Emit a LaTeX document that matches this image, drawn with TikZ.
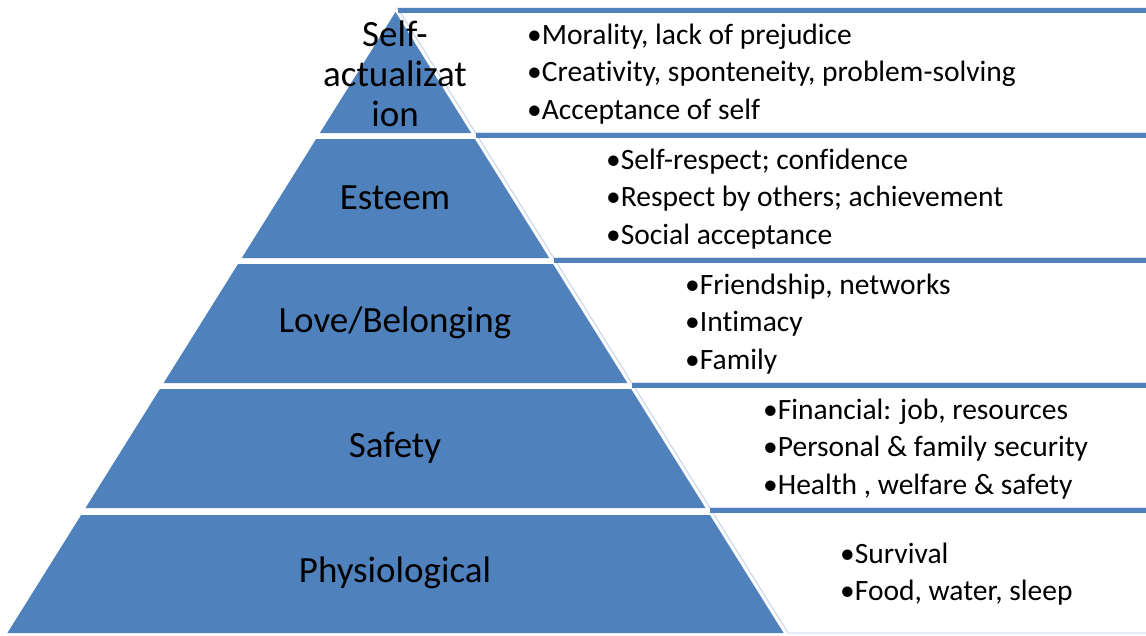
\documentclass[tikz,border=0pt]{standalone}
\usepackage{fontspec}
\setmainfont{Carlito}[Ligatures=CommonOff]
\definecolor{pyrblue}{HTML}{4F81BD}
\definecolor{lineblue}{HTML}{B9CDE5}
\begin{document}
\begin{tikzpicture}[x=1pt,y=-1pt,
  level/.style={font=\fontsize{37}{40}\selectfont, align=center, inner sep=0pt},
  list/.style={font=\fontsize{29.5}{37.7}\selectfont, align=left, anchor=west, inner sep=0pt},
  bar/.style={pyrblue, line width=5pt},
  boxline/.style={lineblue, line width=0.8pt}]
\useasboundingbox (0,0) rectangle (1146,635);
% pyramid levels
\foreach \t/\b in {12/133,139/258,264/383,389/508,515/633} {
  \fill[pyrblue] ({395.5-0.625*(\t-12)},\t) -- ({395.5+0.625*(\t-12)},\t)
    -- ({395.5+0.625*(\b-12)},\b) -- ({395.5-0.625*(\b-12)},\b) -- cycle;
}
% text boxes
\foreach \t/\b in {8/133,133/258,258/383,383/508,508/633} {
  \draw[boxline] (1146,\b) -- ({400+0.625*(\b-12)},\b) -- ({400+0.625*(\t-12)},\t) -- (1146,\t);
  \draw[bar] ({398.5+0.625*(\t-9.5)},{\t+2.5}) -- (1146,{\t+2.5});
}
% labels
\node[level] (l1) at (395,74) {Self-\\actualizat\\ion};
\node[level] (l2) at (395,198) {Esteem};
\node[level] (l3) at (395,323) {Love/Belonging};
\node[level] (l4) at (395,448) {Safety};
\node[level] (l5) at (395,573) {Physiological};
% lists
\node[list] (t1) at (527,74) {•Morality, lack of prejudice\\•Creativity, sponteneity, problem-solving\\•Acceptance of self};
\node[list] (t2) at (606,199) {•Self-respect; confidence\\•Respect by others; achievement\\•Social acceptance};
\node[list] (t3) at (685,324) {•Friendship, networks\\•Intimacy\\•Family};
\node[list] (t4) at (763,449) {•Financial: job, resources\\•Personal \& family security\\•Health , welfare \& safety};
\node[list] (t5) at (840,574) {•Survival\\•Food, water, sleep};
\end{tikzpicture}
\end{document}
